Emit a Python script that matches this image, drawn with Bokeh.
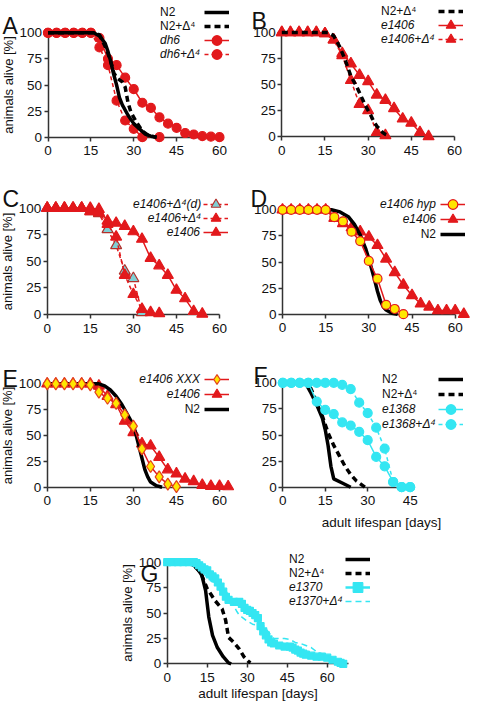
from bokeh.plotting import figure
from bokeh.models import Range1d, Legend, LegendItem, Label, Spacer
from bokeh.layouts import row, column
from bokeh.core.properties import value
from bokeh.embed import file_html
from bokeh.resources import INLINE

FONT = "Liberation Sans"
RED = "#e2191c"
CYAN = "#34e6f2"
YELLOW = "#ffe600"
TEAL = "#7fcfd4"
BLACK = "#000000"
AXC = "#333333"
D4 = "+\u0394\u2074"

X_TICKS = [0, 15, 30, 45, 60]
X_TICKS_F = [0, 15, 30, 45]
Y_TICKS = [0, 25, 50, 75, 100]
Y_LABEL = "animals alive [%]"
X_LABEL = "adult lifespan [days]"

# ---------------- data (days, % alive) ----------------
# A
a_n2_x = [0, 16, 18, 20, 21, 22, 23, 24, 25, 26, 28, 30, 32, 34, 36, 38]
a_n2_y = [100, 100, 97, 90, 82, 72, 60, 50, 38, 31, 21, 13, 8, 3, 1, 0]
a_n2d_x = [0, 16, 18, 20, 21, 22, 23, 24, 26, 27, 28, 29, 30, 31, 33, 35, 37, 38]
a_n2d_y = [100, 100, 98, 87, 80, 72, 62, 57, 53, 48, 33, 24, 19, 14, 6, 2, 0.5, 0]
a_dh6_x = [0, 3, 6, 9, 12, 15, 18, 21, 24, 27, 30, 33, 36, 39, 42, 45, 48, 51, 54, 57, 60]
a_dh6_y = [100, 100, 100, 100, 100, 100, 95, 75, 69, 57, 46, 33, 28, 19, 13, 9, 4, 2.6, 1, 0.5, 0]
a_dh6d_x = [0, 3, 6, 9, 12, 15, 18, 21, 24, 27, 30, 33, 39]
a_dh6d_y = [100, 100, 100, 100, 100, 100, 86, 69, 35, 16, 8, 0, 0]
# B
b_n2d_x = [0, 16, 18, 20, 22, 23, 24, 25, 26, 27, 28, 29, 30, 31, 32, 33, 34, 35, 36, 37.5]
b_n2d_y = [100, 100, 97, 87, 74, 66, 58, 53, 48, 42, 36, 30, 25, 20, 14, 10, 7, 4, 2, 0.5]
b_e1406_x = [0, 3, 6, 9, 12, 15, 18, 21, 24, 27, 30, 33, 36, 39, 42, 45, 48, 51]
b_e1406_y = [100, 100, 100, 100, 100, 99, 93, 80, 70, 59, 53, 40, 35, 27, 17, 13, 4, 0]
b_e1406d_x = [0, 3, 6, 9, 12, 15, 18, 21, 24, 27, 30, 33, 36]
b_e1406d_y = [100, 100, 100, 100, 100, 99, 93, 78, 54, 31, 25, 4, 1]
# C
c_e1406_x = [0, 3, 6, 9, 12, 15, 18, 21, 24, 27, 30, 33, 36, 39, 42, 45, 48, 51, 54]
c_e1406_y = [100, 100, 100, 100, 100, 100, 99, 88, 86, 83, 78, 71, 53, 46, 37, 23, 15, 3, 0.5]
c_d4_x = [0, 3, 6, 9, 12, 15, 18, 21, 24, 27, 30, 33, 36, 39]
c_d4_y = [100, 100, 100, 100, 100, 97, 96, 85, 73, 37, 19, 5, 2, 1]
c_d4dd_x = [0, 3, 6, 9, 12, 15, 18, 21, 24, 27, 30, 33]
c_d4dd_y = [100, 100, 100, 100, 100, 97, 95, 80, 65, 41, 34, 2]
# D
d_hyp_x = [0, 3, 6, 9, 12, 15, 18, 21, 24, 27, 30, 33, 36, 39, 42]
d_hyp_y = [100, 100, 100, 100, 100, 100, 93, 89, 79, 70, 51, 34, 9, 5, 0]
d_e1406_x = [0, 3, 6, 9, 12, 15, 18, 21, 24, 27, 30, 33, 36, 39, 42, 45, 48, 51, 54, 57, 60, 63]
d_e1406_y = [100, 100, 100, 100, 100, 100, 92, 87, 83, 79, 74, 66, 53, 40, 28, 18, 10, 7, 3.5, 3.5, 3.5, 0]
d_n2_x = [0, 17, 20, 23, 25, 27, 29, 30, 31, 32, 33, 34, 35, 36, 38, 40]
d_n2_y = [100, 100, 98, 93, 86, 76, 62, 53, 43, 33, 22, 13, 7, 4, 1, 0]
# E
e_xxx_x = [0, 3, 6, 9, 12, 15, 18, 21, 24, 27, 30, 33, 36, 39, 42, 45]
e_xxx_y = [100, 100, 100, 100, 100, 99, 92, 86, 81, 70, 59, 37, 20, 10, 3, 0.6]
e_e1406_x = [0, 3, 6, 9, 12, 15, 18, 21, 24, 27, 30, 33, 36, 39, 42, 45, 48, 51, 54, 57, 60, 63]
e_e1406_y = [100, 100, 100, 100, 100, 100, 98, 88, 80, 64, 53, 42, 40, 29, 17, 13, 8, 5.5, 2, 1, 1, 0.6]
e_n2_x = [0, 18, 20, 22, 24, 26, 28, 30, 31, 32, 33, 34, 35, 36, 38, 40]
e_n2_y = [100, 100, 98, 94, 88, 80, 70, 60, 50, 39, 28, 17, 10, 5, 1.5, 0]
# F
f_n2_x = [0, 8, 10, 12, 14, 15, 16, 17, 18, 21, 24]
f_n2_y = [100, 100, 90, 79, 66, 55, 40, 20, 8, 4, 0]
f_n2d_x = [0, 9, 11, 12, 14, 16, 18, 20, 22, 24, 26, 27, 29]
f_n2d_y = [100, 100, 88, 80, 68, 52, 40, 30, 20, 12, 6, 4, 0]
f_e1368_x = [0, 3, 6, 9, 12, 15, 18, 21, 24, 27, 30, 33, 36, 39, 42, 45]
f_e1368_y = [100, 100, 100, 100, 82, 74, 70, 62, 59, 53, 45, 29, 20, 5, 0, 0]
f_e1368d_x = [0, 3, 6, 9, 12, 15, 18, 21, 24, 27, 30, 33, 36, 39, 42, 45]
f_e1368d_y = [100, 100, 100, 100, 100, 100, 100, 98, 94, 81, 71, 57, 37, 5, 0, 0]
# G
g_n2_x = [0, 8, 11, 13, 14.4, 15.6, 17, 18.8, 21, 23, 24]
g_n2_y = [100, 100, 95, 87, 72, 46, 28, 16, 7, 1, 0]
g_n2d_x = [0, 8.75, 12.5, 15, 18, 20.6, 21.9, 23, 25, 26.9, 28.75, 30.6, 31.25]
g_n2d_y = [100, 100, 90, 74, 62, 54, 43, 26, 21, 15, 7, 2, 1]
g_e1370_x = [0, 2, 4, 6, 8, 10, 11, 12, 13, 14, 15, 16, 17, 18, 19, 20, 21, 22, 23, 25, 27, 28,
             29, 30, 31, 32, 33, 34, 35, 36, 37, 38, 39, 40, 42, 44, 46, 47, 48, 49, 50, 51, 52,
             54, 56, 58, 60, 62, 64, 65, 66]
g_e1370_y = [100, 100, 100, 100, 100, 100, 99, 97, 95, 93, 92, 88, 86, 84, 80, 76, 71, 66, 63, 61,
             61, 59, 55, 53, 52, 50, 48, 45, 37, 32, 28, 24, 21, 20, 18, 17, 17, 16, 14, 13, 11, 10,
             9, 8, 7, 7, 6, 4, 2, 1, 0]
g_e1370d_x = [0, 8, 10, 12, 14, 16, 18, 20, 22, 24, 25, 26, 27, 28, 30, 32, 34, 36, 38, 40, 42, 44,
              46, 48, 50, 52, 54, 56, 58, 60, 62, 64, 66, 67.5]
g_e1370d_y = [100, 100, 98, 94, 88, 82, 80, 78, 72, 62, 57, 52, 48, 46, 42, 39, 38, 38, 31, 25, 25,
              25, 24, 21, 20, 18, 16, 12, 10, 8, 6, 4, 2, 0]


# ---------------- layout helpers ----------------
def make_panel(w, h, left, top, x0, xs, y0, ys, xticks, xbounds, ylabel=None, xlabel=None):
    g = dict(w=w, h=h, left=left, top=top, x0=x0, xs=xs, y0=y0, ys=ys)
    xr = Range1d((left - x0) / xs, (left + w - x0) / xs)
    yr = Range1d((y0 - (top + h)) / ys, (y0 - top) / ys)
    p = figure(width=w, height=h, x_range=xr, y_range=yr, output_backend="svg",
               toolbar_location=None, min_border=0, outline_line_color=None,
               background_fill_color="white", border_fill_color="white")
    p.xgrid.visible = False
    p.ygrid.visible = False
    xa = p.xaxis[0]
    ya = p.yaxis[0]
    xa.ticker = xticks
    xa.bounds = xbounds
    ya.ticker = Y_TICKS
    ya.bounds = (0, 100)
    for ax in (xa, ya):
        ax.fixed_location = 0
        ax.major_tick_in = 0
        ax.major_tick_out = 4
        ax.minor_tick_in = 0
        ax.minor_tick_out = 0
        ax.axis_line_color = AXC
        ax.axis_line_width = 1.5
        ax.major_tick_line_color = AXC
        ax.major_tick_line_width = 1.5
        ax.major_label_text_font = FONT
        ax.major_label_text_font_size = "13.5px"
        ax.major_label_text_color = "#111111"
        ax.axis_label_text_font = FONT
        ax.axis_label_text_font_size = "13.5px"
        ax.axis_label_text_font_style = "normal"
        ax.axis_label_text_color = "#111111"
        ax.level = "underlay"
    xa.major_label_standoff = 5
    ya.major_label_standoff = 2
    if ylabel:
        ya.axis_label = ylabel
        ya.axis_label_text_font_size = "13px"
        ya.axis_label_standoff = 1
    if xlabel:
        xa.axis_label = xlabel
        xa.axis_label_standoff = 1
    return p, g


GW = 25
GH = 24
CW = {"e": 6.67, "d": 6.67, "h": 6.67, "y": 6.0, "p": 6.67, "N": 8.67, "X": 8.0, " ": 3.33,
      "+": 7.0, "\u0394": 8.0, "\u2074": 4.0, "(": 4.0, ")": 4.0}


def text_w(s):
    return sum(CW.get(c, 6.67) for c in s)


def _legend(p, g, items, left, top, n, pitch, glyph_width, italic):
    vx = left - g["left"]
    vy = (g["top"] + g["h"]) - (top + n * pitch)
    leg = Legend(items=items, location=(vx, vy), orientation="vertical",
                 glyph_width=glyph_width, glyph_height=pitch, label_height=pitch,
                 label_standoff=0, padding=0, spacing=0, margin=0,
                 border_line_color=None, background_fill_alpha=0,
                 label_text_font=FONT, label_text_font_size="12px",
                 label_text_font_style="italic" if italic else "normal",
                 label_text_baseline="middle", label_text_color="#111111")
    p.add_layout(leg)


def add_legend(p, g, entries, text_pos, glyph_left, first_center, pitch, italic, align):
    """Text column on the left, line/marker samples on the right, as in the reference."""
    n = len(entries)
    top = first_center - pitch / 2
    # samples: one small legend per row so that the markers keep a readable size
    for i, (_, r) in enumerate(entries):
        c = first_center + i * pitch
        _legend(p, g, [LegendItem(label=value(" "), renderers=r)],
                glyph_left, c - GH / 2, 1, GH, GW, italic)
    # texts (zero-width samples)
    if align == "left":
        _legend(p, g, [LegendItem(label=value(t), renderers=r) for t, r in entries],
                text_pos, top, n, pitch, 0, italic)
    else:
        for i, (t, r) in enumerate(entries):
            _legend(p, g, [LegendItem(label=value(t), renderers=r)],
                    text_pos - text_w(t), top + i * pitch, 1, pitch, 0, italic)


def add_letter(p, g, letter, px, baseline):
    p.add_layout(Label(x=(px - g["x0"]) / g["xs"], y=(g["y0"] - baseline) / g["ys"],
                       text=letter, text_font=FONT, text_font_size="23px",
                       text_align="left", text_baseline="alphabetic", text_color="#111111"))


def curve(p, x, y, color, width=1.5, dash="solid", marker=None, size=9, fill=None, mline=None):
    rs = [p.line(x, y, line_color=color, line_width=width, line_dash=dash)]
    if marker:
        rs.append(p.scatter(x, y, marker=marker, size=size,
                            fill_color=fill if fill else color,
                            line_color=mline if mline else color, line_width=1.2))
    return rs


# ---------------- panel A ----------------
pA, gA = make_panel(243, 172, 0, 0, 47.5, 2.858, 136.7, 1.044, X_TICKS, (0, 60), ylabel=Y_LABEL)
rA_dh6d = curve(pA, a_dh6d_x, a_dh6d_y, RED, dash="4 3", marker="circle", size=9)
rA_dh6 = curve(pA, a_dh6_x, a_dh6_y, RED, marker="circle", size=9)
rA_n2 = curve(pA, a_n2_x, a_n2_y, BLACK, width=3.5)
rA_n2d = curve(pA, a_n2d_x, a_n2d_y, BLACK, width=3.5, dash="6 4")
add_legend(pA, gA, [("N2", rA_n2), ("N2" + D4, rA_n2d)], 160, 204, 11.5, 14, False, "left")
add_legend(pA, gA, [("dh6", rA_dh6), ("dh6" + D4, rA_dh6d)], 160, 204, 39.5, 14, True, "left")
add_letter(pA, gA, "A", 2, 25)

# ---------------- panel B ----------------
pB, gB = make_panel(243, 172, 243, 0, 281.3, 2.878, 136.0, 1.04, X_TICKS, (0, 60))
rB_e = curve(pB, b_e1406_x, b_e1406_y, RED, marker="triangle", size=11)
rB_ed = curve(pB, b_e1406d_x, b_e1406d_y, RED, dash="4 3", marker="triangle", size=11)
rB_n2d = curve(pB, b_n2d_x, b_n2d_y, BLACK, width=3.5, dash="6 4")
add_legend(pB, gB, [("N2" + D4, rB_n2d)], 381, 438, 11, 14, False, "left")
add_legend(pB, gB, [("e1406", rB_e), ("e1406" + D4, rB_ed)], 381, 438, 25, 14, True, "left")
add_letter(pB, gB, "B", 251, 20)

# ---------------- panel C ----------------
pC, gC = make_panel(243, 173, 0, 172, 46.7, 2.872, 314.0, 1.063, X_TICKS, (0, 60), ylabel=Y_LABEL)
rC_dd = curve(pC, c_d4dd_x, c_d4dd_y, RED, dash="4 3", marker="triangle", size=11, fill=TEAL, mline="#b3302b")
rC_d = curve(pC, c_d4_x, c_d4_y, RED, dash="4 3", marker="triangle", size=11)
rC_e = curve(pC, c_e1406_x, c_e1406_y, RED, marker="triangle", size=11)
add_legend(pC, gC, [("e1406" + D4 + "(d)", rC_dd), ("e1406" + D4, rC_d), ("e1406", rC_e)],
           200, 203, 204.3, 14, True, "right")
add_letter(pC, gC, "C", 2, 198)

# ---------------- panel D ----------------
pD, gD = make_panel(243, 173, 243, 172, 282.0, 2.878, 313.7, 1.044, X_TICKS, (0, 60))
rD_e = curve(pD, d_e1406_x, d_e1406_y, RED, marker="triangle", size=11)
rD_n2 = curve(pD, d_n2_x, d_n2_y, BLACK, width=3.5)
rD_h = curve(pD, d_hyp_x, d_hyp_y, RED, marker="circle", size=9, fill=YELLOW, mline=RED)
add_legend(pD, gD, [("e1406 hyp", rD_h), ("e1406", rD_e)], 436, 440, 204, 15, True, "right")
add_legend(pD, gD, [("N2", rD_n2)], 436, 440, 234, 15, False, "right")
add_letter(pD, gD, "D", 250, 198)

# ---------------- panel E ----------------
pE, gE = make_panel(243, 190, 0, 345, 46.7, 2.872, 486.7, 1.034, X_TICKS, (0, 60), ylabel=Y_LABEL)
rE_e = curve(pE, e_e1406_x, e_e1406_y, RED, marker="triangle", size=11)
rE_n2 = curve(pE, e_n2_x, e_n2_y, BLACK, width=3.5)
rE_x = curve(pE, e_xxx_x, e_xxx_y, RED, marker="diamond", size=12, fill=YELLOW, mline="#e3401b")
add_legend(pE, gE, [("e1406 XXX", rE_x), ("e1406", rE_e)], 200, 204, 379, 15, True, "right")
add_legend(pE, gE, [("N2", rE_n2)], 200, 204, 409, 15, False, "right")
add_letter(pE, gE, "E", 2, 378)

# ---------------- panel F ----------------
pF, gF = make_panel(243, 190, 243, 345, 282.3, 2.83, 486.7, 1.044, X_TICKS_F, (0, 45))
rF_n2 = curve(pF, f_n2_x, f_n2_y, BLACK, width=3.5)
rF_n2d = curve(pF, f_n2d_x, f_n2d_y, BLACK, width=3.5, dash="6 4")
rF_e = curve(pF, f_e1368_x, f_e1368_y, CYAN, marker="circle", size=9)
rF_ed = curve(pF, f_e1368d_x, f_e1368d_y, CYAN, dash="4 3", marker="circle", size=9)
add_legend(pF, gF, [("N2", rF_n2), ("N2" + D4, rF_n2d)], 382, 438, 379, 15, False, "left")
add_legend(pF, gF, [("e1368", rF_e), ("e1368" + D4, rF_ed)], 382, 438, 409, 15, True, "left")
add_letter(pF, gF, "F", 253, 375)
pF.add_layout(Label(x=(381 - gF["x0"]) / gF["xs"], y=(gF["y0"] - 522) / gF["ys"], text=X_LABEL,
                    text_font=FONT, text_font_size="13.5px", text_align="center",
                    text_baseline="middle", text_color="#111111"))

# ---------------- panel G ----------------
pG, gG = make_panel(290, 169, 100, 535, 166.7, 2.667, 663.3, 1.016, X_TICKS, (0, 68),
                    ylabel=Y_LABEL, xlabel=X_LABEL)
rG_n2 = curve(pG, g_n2_x, g_n2_y, BLACK, width=3.5)
rG_n2d = curve(pG, g_n2d_x, g_n2d_y, BLACK, width=3.5, dash="6 4")
rG_e = curve(pG, g_e1370_x, g_e1370_y, CYAN, width=2.5, marker="square", size=7)
rG_ed = curve(pG, g_e1370d_x, g_e1370d_y, CYAN, width=1.5, dash="6 4")
add_legend(pG, gG, [("N2", rG_n2), ("N2" + D4, rG_n2d)], 289, 345, 559, 14, False, "left")
add_legend(pG, gG, [("e1370", rG_e), ("e1370" + D4, rG_ed)], 289, 345, 587, 14, True, "left")
add_letter(pG, gG, "G", 140, 573)

layout = column(row(pA, pB, spacing=0), row(pC, pD, spacing=0), row(pE, pF, spacing=0),
                row(Spacer(width=100, height=169), pG, spacing=0), spacing=0)

open("out.html", "w").write(file_html(layout, INLINE))
